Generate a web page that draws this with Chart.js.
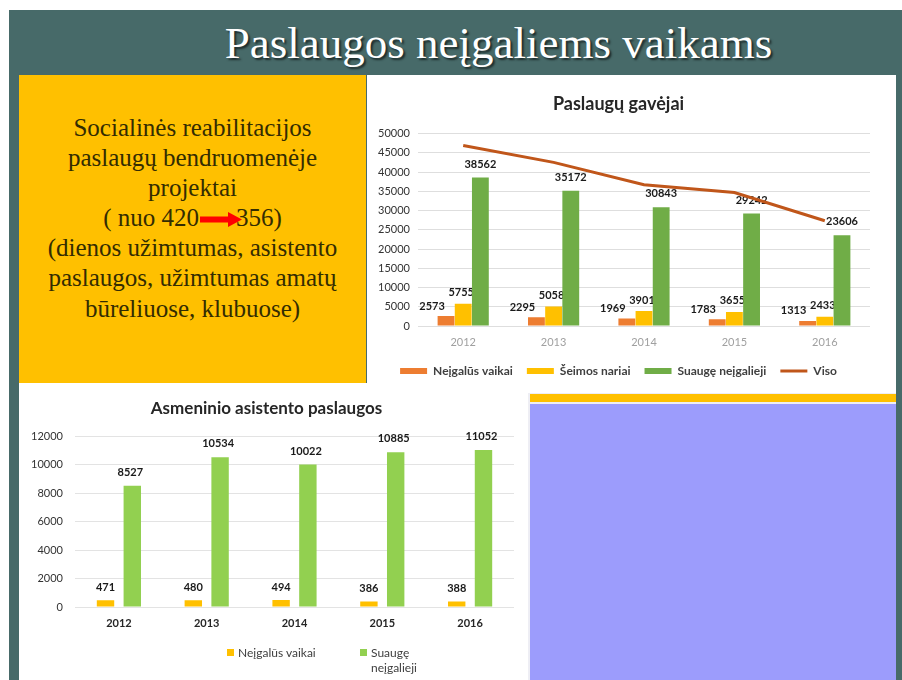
<!DOCTYPE html>
<html>
<head>
<meta charset="utf-8">
<script src="https://cdn.jsdelivr.net/npm/chart.js@4.4.1/dist/chart.umd.min.js"></script>
<style>
  html, body { margin:0; padding:0; }
  body { width:902px; height:680px; position:relative; background:#ffffff; overflow:hidden; font-family: Lato, "Liberation Sans", sans-serif; }
  .abs { position:absolute; }
  #slide { left:9px; top:10px; width:893px; height:670px; background:#476a69; }
  #title { left:222px; top:10px; width:553px; height:66px; line-height:66px; text-align:center; color:#ffffff;
           font-family:"Liberation Serif", serif; font-size:45px; white-space:nowrap; text-shadow:2px 2px 2px #1d2b2b; }
  #yellow { left:19px; top:75px; width:347px; height:308px; background:#ffc000; }
  #yellowText { left:19px; top:113px; width:347px; text-align:center; font-family:"Liberation Serif", serif; font-size:25px;
                line-height:30.1px; color:#332c02; white-space:nowrap; }
  #topbox { left:367px; top:75px; width:529px; height:320px; background:#ffffff; }
  #under { left:528px; top:393px; width:368px; height:287px; background:#eeeef4; }
  #stripe { left:530px; top:394px; width:366px; height:8px; background:#ffc000; }
  #purple { left:530px; top:404px; width:366px; height:276px; background:#9c9cfc; }
  #botbox { left:19px; top:383px; width:509px; height:297px; background:#ffffff; }
  #botLegend { left:227px; top:645px; display:flex; font-size:12px; color:#404040; }
  .li { display:flex; align-items:flex-start; }
  .sw { width:7px; height:7px; margin:4px 4px 0 0; flex:none; }
  .lt { line-height:15px; }
</style>
</head>
<body>
<div id="slide" class="abs"></div>
<div id="title" class="abs">Paslaugos neįgaliems vaikams</div>
<div id="yellow" class="abs"></div>
<div id="yellowText" class="abs">Socialinės reabilitacijos<br>paslaugų bendruomenėje<br>projektai<br>( nuo 420<svg width="42" height="15" viewBox="0 0 42 15" style="vertical-align:-1px;margin:0 -6px 0 1px"><rect x="0" y="4.5" width="30" height="6" fill="#ff0000"/><polygon points="28,0 42,7.5 28,15" fill="#ff0000"/></svg>356)<br>(dienos užimtumas, asistento<br>paslaugos, užimtumas amatų<br>būreliuose, klubuose)</div>
<div id="topbox" class="abs"><canvas id="c1" width="529" height="320"></canvas></div>
<div id="under" class="abs"></div>
<div id="stripe" class="abs"></div>
<div id="purple" class="abs"></div>
<div id="botbox" class="abs"><canvas id="c2" width="509" height="297"></canvas></div>
<div id="botLegend" class="abs"></div>
<script>
// ---- data ----
const years = ['2012', '2013', '2014', '2015', '2016'];
const recipientSeriesNames = ['Neįgalūs vaikai', 'Šeimos nariai', 'Suaugę neįgalieji', 'Viso'];
const recipientsChildren = [2573, 2295, 1969, 1783, 1313];
const recipientsFamily = [5755, 5058, 3901, 3655, 2433];
const recipientsAdults = [38562, 35172, 30843, 29242, 23606];
const recipientsTotal = [46890, 42525, 36713, 34680, 27352];
const recipientsAxisMax = 50000;
const recipientsAxisStep = 5000;

const assistantSeriesNames = ['Neįgalūs vaikai', 'Suaugę neįgalieji'];
const assistantChildren = [471, 480, 494, 386, 388];
const assistantAdults = [8527, 10534, 10022, 10885, 11052];
const assistantAxisMax = 12000;
const assistantAxisStep = 2000;

const FONT = 'Lato, "Liberation Sans", sans-serif';

function makeValueLabels(offsets, font, color) {
  return {
    id: 'valueLabels',
    beforeDatasetsDraw(chart) {
      const ctx = chart.ctx;
      ctx.save();
      ctx.font = font;
      ctx.fillStyle = color;
      ctx.textAlign = 'center';
      ctx.textBaseline = 'middle';
      chart.data.datasets.forEach((ds, i) => {
        const off = offsets[i];
        if (!off) return;
        chart.getDatasetMeta(i).data.forEach((el, j) => {
          ctx.fillText(String(ds.data[j]), el.x + off[0], el.y - off[1]);
        });
      });
      ctx.restore();
    }
  };
}
const plainTick = (v) => String(v);

// ---- chart 1: Paslaugų gavėjai ----
new Chart(document.getElementById('c1'), {
  type: 'bar',
  data: {
    labels: years,
    datasets: [
      { label: recipientSeriesNames[0], data: recipientsChildren, backgroundColor: '#ed7d31' },
      { label: recipientSeriesNames[1], data: recipientsFamily, backgroundColor: '#ffc000' },
      { label: recipientSeriesNames[2], data: recipientsAdults, backgroundColor: '#70ad47' },
      { label: recipientSeriesNames[3], data: recipientsTotal, type: 'line', borderColor: '#c0561a', backgroundColor: '#c0561a',
        borderWidth: 3, pointRadius: 0, tension: 0 }
    ]
  },
  options: {
    responsive: false,
    animation: false,
    layout: { padding: { left: 0, right: 26, top: 0, bottom: 8 } },
    datasets: { bar: { categoryPercentage: 0.57, barPercentage: 0.98 } },
    scales: {
      x: {
        grid: { display: false, drawTicks: false },
        border: { display: false },
        ticks: { color: '#a0a0a0', font: { family: FONT, size: 11 }, padding: 10 },
        afterFit: (s) => { s.height = 25; }
      },
      y: {
        min: 0, max: recipientsAxisMax,
        ticks: { stepSize: recipientsAxisStep, color: '#333333', font: { family: FONT, size: 11 }, padding: 8, callback: plainTick },
        grid: { color: '#dedede', drawTicks: false },
        border: { display: false },
        afterFit: (s) => { s.width = 51; }
      }
    },
    plugins: {
      title: { display: true, text: 'Paslaugų gavėjai', color: '#262626', font: { family: FONT, size: 18, weight: 'bold' },
               padding: { top: 18, bottom: 19 } },
      legend: {
        position: 'bottom',
        labels: {
          usePointStyle: true, pointStyleWidth: 27, boxHeight: 6, padding: 14, color: '#404040',
          font: { family: FONT, size: 12, weight: 'bold' },
          generateLabels: (chart) => Chart.defaults.plugins.legend.labels.generateLabels(chart).map(it => {
            const isLine = chart.data.datasets[it.datasetIndex].type === 'line';
            it.pointStyle = isLine ? 'line' : 'rect';
            it.lineWidth = isLine ? 3 : 0;
            return it;
          })
        }
      },
      tooltip: { enabled: false }
    }
  },
  plugins: [makeValueLabels({ 0: [-14, 10], 1: [-2, 11], 2: [0, 13.5] }, 'bold 11px ' + FONT, '#1a1a1a')]
});

// ---- chart 2: Asmeninio asistento paslaugos ----
const c2 = new Chart(document.getElementById('c2'), {
  type: 'bar',
  data: {
    labels: years,
    datasets: [
      { label: assistantSeriesNames[0], data: assistantChildren, backgroundColor: '#ffc000' },
      { label: assistantSeriesNames[1], data: assistantAdults, backgroundColor: '#92d050' }
    ]
  },
  options: {
    responsive: false,
    animation: false,
    layout: { padding: { left: 0, right: 14, top: 0, bottom: 43 } },
    datasets: { bar: { categoryPercentage: 0.61, barPercentage: 0.65 } },
    scales: {
      x: {
        grid: { display: false, drawTicks: false },
        border: { display: false },
        ticks: { color: '#262626', font: { family: FONT, size: 11, weight: 'bold' }, padding: 10 },
        afterFit: (s) => { s.height = 30; }
      },
      y: {
        min: 0, max: assistantAxisMax,
        ticks: { stepSize: assistantAxisStep, color: '#333333', font: { family: FONT, size: 11 }, padding: 12, callback: plainTick },
        grid: { color: '#e3e3e3', drawTicks: false },
        border: { display: false },
        afterFit: (s) => { s.width = 56; }
      }
    },
    plugins: {
      title: { display: true, text: 'Asmeninio asistento paslaugos', color: '#262626', font: { family: FONT, size: 17, weight: 'bold' },
               padding: { top: 15, bottom: 18 } },
      legend: { display: false },
      tooltip: { enabled: false }
    }
  },
  plugins: [makeValueLabels({ 0: [0, 13], 1: [-2, 13.5] }, 'bold 11px ' + FONT, '#1a1a1a')]
});

// HTML legend for chart 2, built from its datasets
const legendBox = document.getElementById('botLegend');
const legendWidths = [133, 60];
c2.data.datasets.forEach((ds, i) => {
  const item = document.createElement('div');
  item.className = 'li';
  item.style.width = legendWidths[i] + 'px';
  const sw = document.createElement('span');
  sw.className = 'sw';
  sw.style.background = ds.backgroundColor;
  const t = document.createElement('span');
  t.className = 'lt';
  t.textContent = ds.label;
  item.appendChild(sw);
  item.appendChild(t);
  legendBox.appendChild(item);
});
</script>
</body>
</html>
